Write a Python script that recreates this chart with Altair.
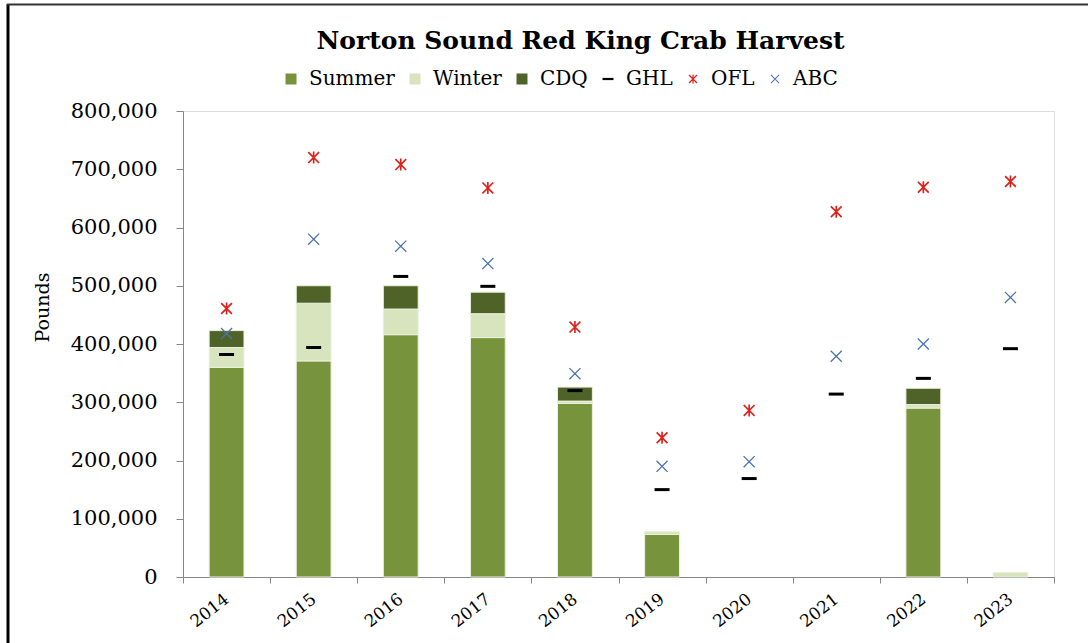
import altair as alt
import pandas as pd

# Harvest by fishery (pounds) and management reference points, 2014-2023
years = ["2014", "2015", "2016", "2017", "2018", "2019", "2020", "2021", "2022", "2023"]
summer = [360000, 371000, 416000, 411000, 298000, 73000, 0, 0, 290000, 0]
winter = [34000, 99000, 44000, 41000, 4000, 5000, 0, 0, 6000, 8000]
cdq = [29000, 30000, 40000, 37000, 24000, 0, 0, 0, 28000, 0]
ghl = [382000, 394000, 516000, 499000, 320000, 150000, 169000, 314000, 341000, 392000]
ofl = [461000, 720000, 708000, 668000, 429000, 239000, 286000, 627000, 669000, 679000]
abc = [418000, 580000, 568000, 538000, 349000, 190000, 198000, 379000, 400000, 480000]

series_names = ["Summer", "Winter", "CDQ", "GHL", "OFL", "ABC"]
series_colors = ["#77933C", "#D7E4BD", "#4F6228", "#000000", "#E0201B", "#4A72AD"]
y_ticks = [0, 100000, 200000, 300000, 400000, 500000, 600000, 700000, 800000]

# marker outlines as filled paths in the [-1, 1] box
DASH = "M-1,-0.2H1V0.2H-1Z"
CROSS = ("M-0.68,-0.8L0.8,0.68L0.68,0.8L-0.8,-0.68Z"
         "M0.68,-0.8L0.8,-0.68L-0.68,0.8L-0.8,0.68Z")
STAR = ("M-0.64,-0.8L0.8,0.64L0.64,0.8L-0.8,-0.64Z"
        "M0.64,-0.8L0.8,-0.64L-0.64,0.8L-0.8,0.64Z"
        "M-0.11,-0.8H0.11V0.8H-0.11Z")
series_shapes = ["square", "square", "square", DASH, STAR, CROSS]

rows = []
for i, yr in enumerate(years):
    for order, (name, vals) in enumerate([("Summer", summer), ("Winter", winter), ("CDQ", cdq)]):
        if vals[i] > 0:
            rows.append({"year": yr, "series": name, "value": vals[i], "ord": order})
bars_df = pd.DataFrame(rows)

prows = []
for i, yr in enumerate(years):
    for name, vals in [("GHL", ghl), ("OFL", ofl), ("ABC", abc)]:
        prows.append({"year": yr, "series": name, "value": vals[i]})
points_df = pd.DataFrame(prows)

FONT = "DejaVu Serif"
GRAY = "#868686"

legend = alt.Legend(
    title=None, orient="none", legendX=98, legendY=-42, direction="horizontal",
    labelFont=FONT, labelFontSize=20, labelColor="#000000", labelOffset=8,
    symbolSize=121, columnPadding=10, padding=0, symbolStrokeWidth=0,
)
color = alt.Color("series:N", scale=alt.Scale(domain=series_names, range=series_colors), legend=legend)
shape = alt.Shape("series:N", scale=alt.Scale(domain=series_names, range=series_shapes), legend=legend)

x = alt.X(
    "year:O",
    scale=alt.Scale(domain=years, paddingInner=0, paddingOuter=0),
    axis=alt.Axis(
        title=None, labelAngle=322, labelAlign="right", labelBaseline="middle",
        labelFont=FONT, labelFontSize=17, labelColor="#000000", labelPadding=14,
        tickBand="extent", tickSize=6, tickColor=GRAY, domainColor=GRAY,
    ),
)
y_scale = alt.Scale(domain=[0, 800000], nice=False)
y_axis = alt.Axis(
    values=y_ticks, format=",d", grid=False, tickSize=7, labelPadding=19,
    labelFont=FONT, labelFontSize=21, labelColor="#000000",
    tickColor=GRAY, domainColor=GRAY,
    title="Pounds", titleFont=FONT, titleFontSize=19, titleFontWeight="normal",
    titleColor="#000000", titleX=-131, titleY=196, titleAngle=270,
)

bars = alt.Chart(bars_df).mark_bar(
    width=alt.RelativeBandSize(0.4), stroke="#EBF1DE", strokeWidth=1, opacity=1
).encode(
    x=x,
    y=alt.Y("value:Q", stack=True, scale=y_scale, axis=y_axis),
    color=color,
    order=alt.Order("ord:Q", sort="ascending"),
)

points = alt.Chart(points_df).mark_point(filled=True, size=225, opacity=1).encode(
    x=x,
    y=alt.Y("value:Q", scale=y_scale),
    color=color,
    shape=shape,
)

# chart frame
one = pd.DataFrame({"k": [0]})
frame_left = alt.Chart(one).mark_rule(color="#000000", strokeWidth=3).encode(
    x=alt.value(-175), y=alt.value(-107), y2=alt.value(540)
)
frame_top = alt.Chart(one).mark_rule(color="#333333", strokeWidth=2).encode(
    x=alt.value(-176), x2=alt.value(910), y=alt.value(-106.5)
)

chart = alt.layer(bars, points, frame_left, frame_top).properties(
    width=871,
    height=466,
    autosize=alt.AutoSizeParams(type="none"),
    padding={"left": 183, "top": 111, "right": 34, "bottom": 66},
    title=alt.TitleParams(
        "Norton Sound Red King Crab Harvest", font=FONT, fontSize=25, fontWeight="bold",
        color="#000000", anchor="middle", frame="group", dx=-38, dy=61, offset=10,
    ),
).configure_view(strokeWidth=0).configure(background="#FFFFFF")

chart.save("out.html", embed_options={"renderer": "svg", "actions": False})
